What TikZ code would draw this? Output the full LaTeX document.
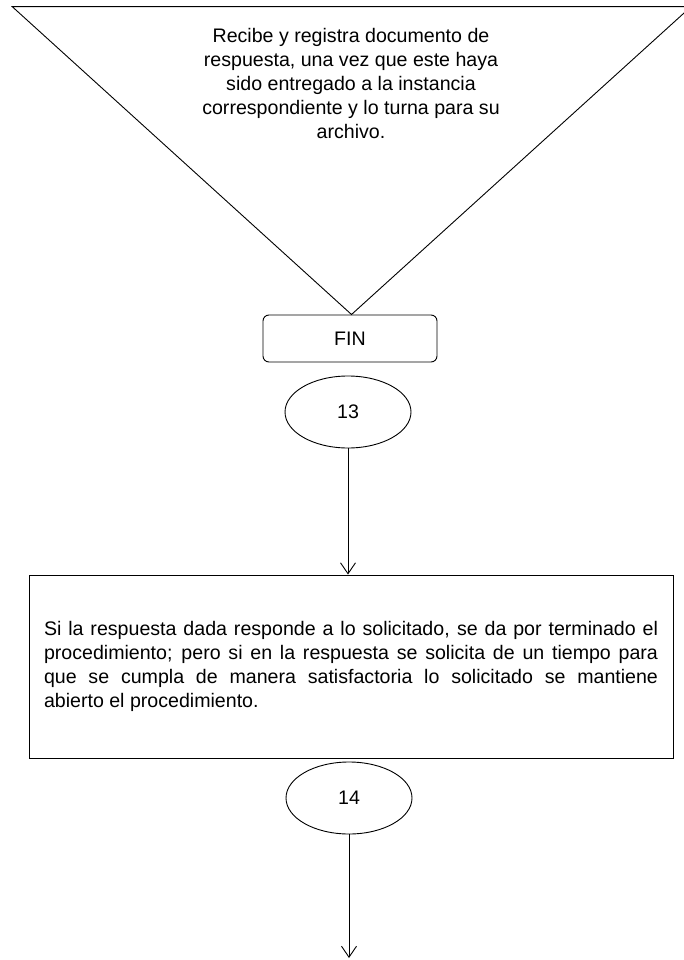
\documentclass[tikz,border=0pt]{standalone}
\usepackage{fontspec}
\setmainfont{Liberation Sans}
\usetikzlibrary{arrows.meta}
\usetikzlibrary{shapes.geometric}
\usetikzlibrary{calc,positioning}

\begin{document}
\begin{tikzpicture}[>={Straight Barb[length=11pt,width=15pt]}, x=1pt, y=-1pt, line width=0.9pt,
    every node/.style={font=\fontsize{19.6}{24}\selectfont},
    elipse/.style={draw, ellipse, minimum width=126pt, minimum height=72pt, inner sep=0pt}]

    \useasboundingbox (0,0) rectangle (684,960);
    \clip (0,0) rectangle (684,960);

    \coordinate (tri1) at (12.3,6.7);
    \coordinate (tri2) at (691,6.7);
    \coordinate (tri3) at (351.5,314.5);
    \draw (tri1) -- (tri2) -- (tri3) -- cycle;
    \node[align=center] (recibe) at (351,83.4) {Recibe y registra documento de\\
        respuesta, una vez que este haya\\ sido entregado a la instancia\\
        correspondiente y lo turna para su\\ archivo.};

    \node[draw, rounded corners=6pt, minimum width=174pt, minimum height=47pt] (fin) at (350,338.5) {FIN};
    \node[elipse] (c13) at (348,412) {13};

    \node[draw, minimum width=644pt, minimum height=183pt] (caja) at (351,666.5) {};
    \node[text width=614pt, align=justify] (texto) at (caja.center) {\tolerance=10000
        \hyphenpenalty=10000 Si la respuesta dada responde a lo solicitado, se da por terminado el\linebreak
        procedimiento; pero si en la respuesta se solicita de un tiempo para\linebreak
        que se cumpla de manera satisfactoria lo solicitado se mantiene\linebreak
        abierto el procedimiento.};

    \node[elipse] (c14) at (349,798) {14};
    \coordinate (fondo) at (0,958);

    \draw[->] (c13.south) -- (c13.south |- caja.north);
    \draw[->] (c14.south) -- (c14.south |- fondo);

\end{tikzpicture}
\end{document}
